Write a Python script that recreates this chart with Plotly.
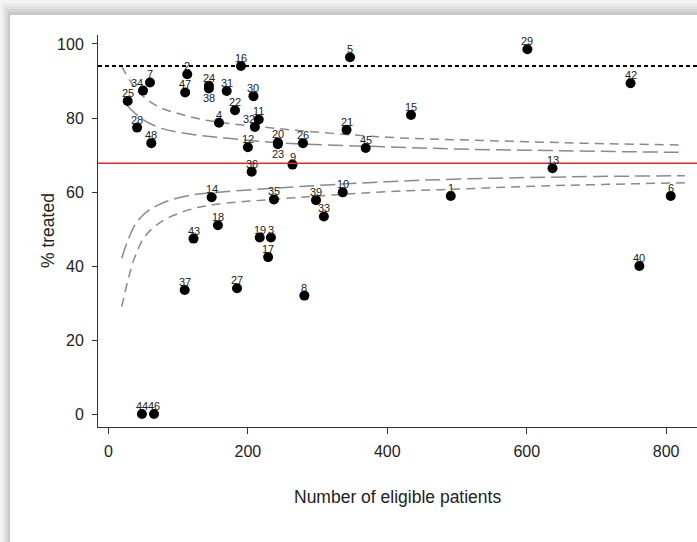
import plotly.graph_objects as go

# ---- data ----
unit_ids = [1, 2, 3, 4, 5, 6, 7, 8, 9, 10, 11, 12, 13, 14, 15, 16, 17, 18, 19, 20,
            21, 22, 23, 24, 25, 26, 27, 28, 29, 30, 31, 32, 33, 34, 35, 36, 37, 38,
            39, 40, 42, 43, 44, 45, 46, 47, 48]
n_eligible = [491, 113, 233, 158.5, 346.5, 806.6, 59.5, 281, 264, 336, 215.5, 200, 637,
              148, 434, 190, 229, 157, 217, 243, 341.5, 181.5, 243, 144, 27.5, 279,
              184.4, 41, 601, 208, 169.6, 210, 309, 49.5, 237.4, 205.4, 109.3, 144,
              297.7, 761.6, 749, 122, 48, 369, 65.3, 110, 61.4]
pct_treated = [58.9, 91.8, 47.7, 78.7, 96.4, 58.9, 89.6, 32.0, 67.4, 59.9, 79.6, 72.1, 66.4,
               58.6, 80.8, 94.05, 42.4, 51.0, 47.7, 73.4, 76.8, 82.1, 72.9, 88.7, 84.6, 73.2,
               34.0, 77.4, 98.6, 85.9, 87.3, 77.6, 53.4, 87.4, 58.0, 65.5, 33.5, 88.0,
               57.8, 40.0, 89.4, 47.4, 0.0, 71.9, 0.0, 86.9, 73.2]
labels_below = [23, 38]
labels_left = [32, 34]

overall_pct = 67.75
benchmark_pct = 94.05

# funnel limits
outer_upper_n = [19, 30, 45, 71, 104, 143, 240, 400, 504, 600, 700, 827]
outer_upper_y = [94.0, 90.3, 86.7, 83.1, 81.0, 79.3, 77.2, 74.8, 74.1, 73.6, 73.1, 72.7]
inner_upper_n = [26, 47, 76, 119, 157, 243, 400, 504, 600, 700, 827]
inner_upper_y = [83.5, 79.9, 77.2, 75.6, 74.8, 73.3, 72.2, 71.6, 71.3, 71.0, 70.7]
inner_lower_n = [19, 28, 38, 52, 76, 114, 143, 236, 400, 504, 600, 700, 827]
inner_lower_y = [42.1, 47.0, 51.1, 54.2, 56.9, 59.0, 59.7, 61.0, 62.8, 63.5, 63.9, 64.2, 64.4]
outer_lower_n = [19, 28, 38, 52, 76, 114, 152, 236, 400, 504, 600, 700, 827]
outer_lower_y = [29.0, 36.2, 42.5, 47.9, 52.0, 55.1, 56.6, 58.0, 60.1, 60.8, 61.5, 62.0, 62.5]

x_ticks = [0, 200, 400, 600, 800]
y_ticks = [0, 20, 40, 60, 80, 100]

FONT = "Liberation Sans, Arial, sans-serif"
W, H = 697, 542
ML, MR, MT, MB = 98, 0, 35, 115
PW, PH = W - ML - MR, H - MT - MB

fig = go.Figure()

gray = "#8a8a8a"
for xs, ys, dash in [(outer_upper_n, outer_upper_y, "9px,6px"),
                     (inner_upper_n, inner_upper_y, "15px,6px"),
                     (inner_lower_n, inner_lower_y, "15px,6px"),
                     (outer_lower_n, outer_lower_y, "9px,6px")]:
    fig.add_trace(go.Scatter(x=xs, y=ys, mode="lines",
                             line=dict(color=gray, width=1.5, dash=dash, shape="spline"),
                             hoverinfo="skip", showlegend=False))

fig.add_trace(go.Scatter(x=n_eligible, y=pct_treated, mode="markers",
                         marker=dict(color="black", size=10),
                         text=[str(i) for i in unit_ids], showlegend=False))

# reference lines
fig.add_shape(type="line", xref="paper", yref="y", x0=0, x1=1, y0=overall_pct, y1=overall_pct,
              line=dict(color="#e32b2b", width=1.4))
fig.add_shape(type="line", xref="paper", yref="y", x0=0, x1=1, y0=benchmark_pct, y1=benchmark_pct,
              line=dict(color="black", width=2, dash="4px,3px"))

annotations = []
for uid, xv, yv in zip(unit_ids, n_eligible, pct_treated):
    annotations.append(dict(x=xv, y=yv, text=str(uid), showarrow=False,
                            xanchor="center", yanchor="middle",
                            yshift=-10 if uid in labels_below else 8,
                            xshift=-6 if uid in labels_left else 0,
                            font=dict(family=FONT, size=11, color="#222")))
# axis titles
annotations.append(dict(xref="paper", yref="paper", x=0.5, y=(427 - 497) / PH,
                        text="Number of eligible patients", showarrow=False,
                        xanchor="center", yanchor="middle",
                        font=dict(family=FONT, size=17.5, color="#222")))
annotations.append(dict(xref="paper", yref="paper", x=(48 - ML) / PW, y=0.5,
                        text="% treated", showarrow=False, textangle=-90,
                        xanchor="center", yanchor="middle",
                        font=dict(family=FONT, size=17.5, color="#222")))

# card shadow on the left and top edges
def px_x(p):
    return (p - ML) / PW

def px_y(p):
    return (427 - p) / PH

shadow_cols = ["#f4f4f4", "#ececec", "#e2e2e2", "#d6d6d6", "#c8c8c8"]
for i, c in enumerate(shadow_cols):
    # top band
    fig.add_shape(type="rect", xref="paper", yref="paper", layer="below",
                  x0=px_x(2 * i), x1=px_x(W + 5), y0=px_y(3 * i), y1=px_y(3 * i + 3),
                  fillcolor=c, line=dict(width=0))
    # left band
    fig.add_shape(type="rect", xref="paper", yref="paper", layer="below",
                  x0=px_x(2 * i), x1=px_x(2 * i + 2), y0=px_y(3 * i), y1=px_y(H + 5),
                  fillcolor=c, line=dict(width=0))

fig.update_layout(
    width=W, height=H, autosize=False,
    margin=dict(l=ML, r=MR, t=MT, b=MB, pad=0),
    paper_bgcolor="white", plot_bgcolor="rgba(0,0,0,0)",
    font=dict(family=FONT, size=15, color="#222"),
    annotations=annotations,
    xaxis=dict(range=[-15.06, 844.3], tickvals=x_ticks, ticks="outside", ticklen=6,
               tickcolor="#333", showline=True, linecolor="#333", linewidth=1,
               showgrid=False, zeroline=False, ticklabelstandoff=4,
               tickfont=dict(family=FONT, size=16, color="#222")),
    yaxis=dict(range=[-3.51, 102.43], tickvals=y_ticks, ticks="outside", ticklen=5,
               tickcolor="#333", showline=True, linecolor="#333", linewidth=1,
               showgrid=False, zeroline=False, ticklabelstandoff=5,
               tickfont=dict(family=FONT, size=16, color="#222")),
)

fig.write_html("out.html")
